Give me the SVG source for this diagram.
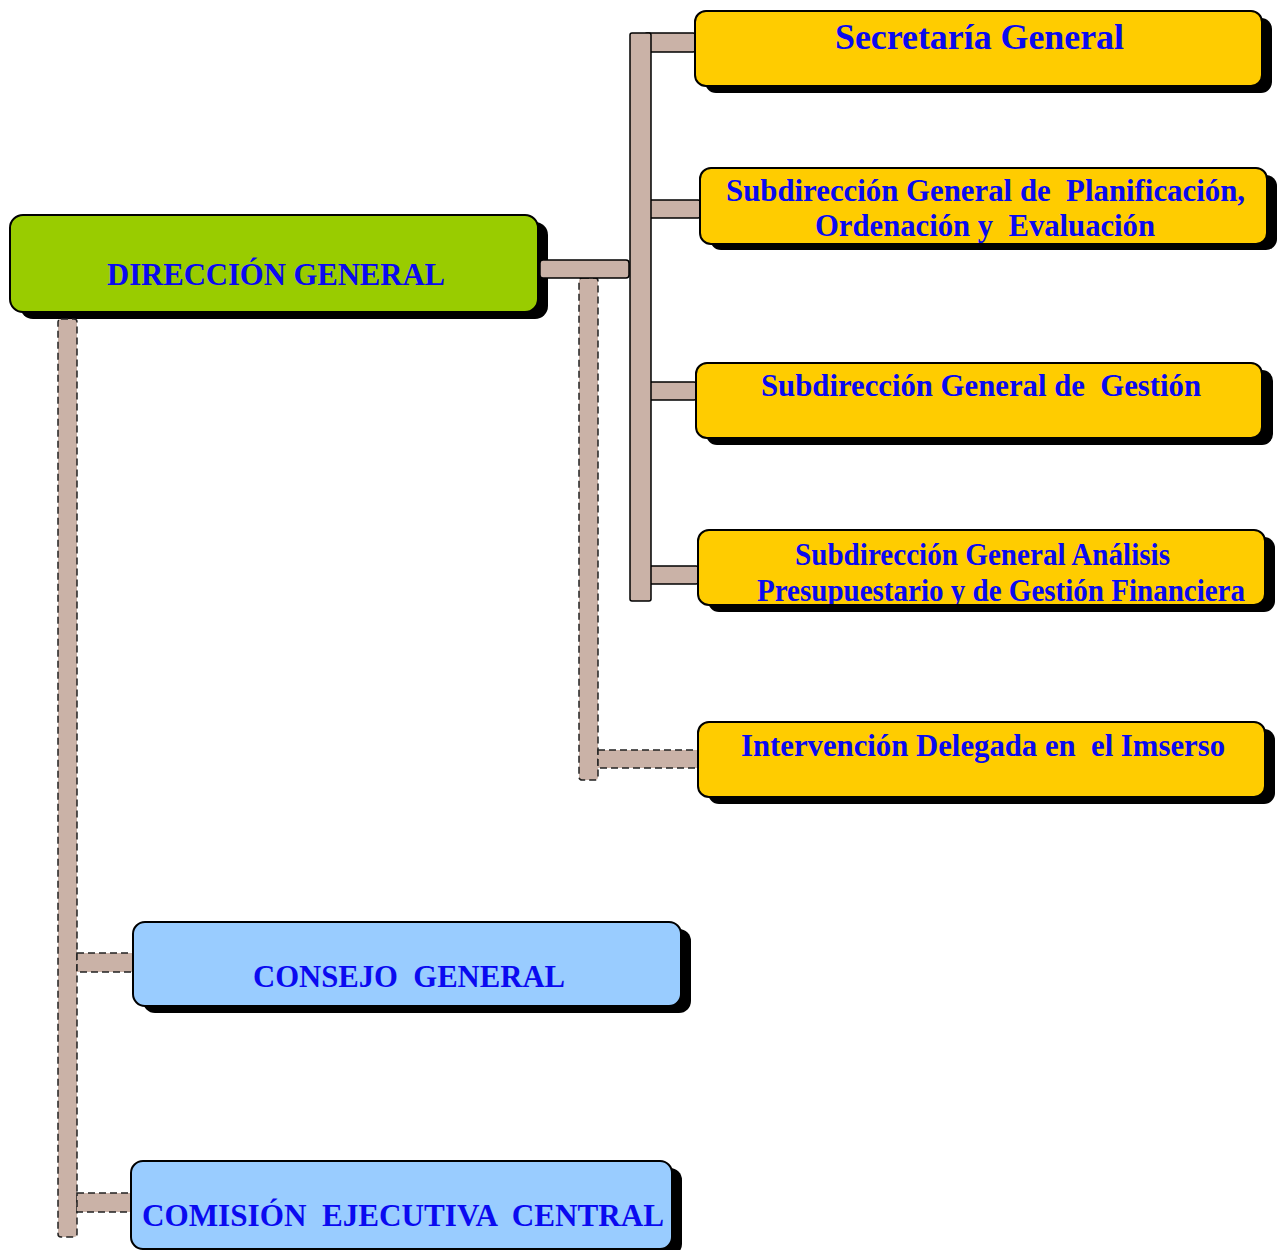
<svg xmlns="http://www.w3.org/2000/svg" width="1281" height="1250" viewBox="0 0 1281 1250">
<style>
.shadow{fill:#000}
.box{stroke:#000;stroke-width:2}
.yellow{fill:#FFCC00}
.green{fill:#99CC00}
.blue{fill:#99CCFF}
.con{fill:#CAB2A7;stroke:#000;stroke-width:1.5}
.dash{fill:#CAB2A7;stroke:#222;stroke-width:1.5;stroke-dasharray:7,4}
.t{font-family:"Liberation Serif","Times New Roman",serif;font-weight:bold;fill:#0A0AF0;font-size:32px}
</style>
<defs>
<clipPath id="clipA"><rect x="698" y="530" width="567" height="74"/></clipPath>
</defs>
<rect width="1281" height="1250" fill="#fff"/>
<g id="direccion-general">
<rect class="shadow" x="20" y="222" width="528" height="97" rx="13"/>
<rect class="box green" x="10" y="215" width="528" height="97" rx="13"/>
<text class="t" x="107" y="285" textLength="338" lengthAdjust="spacingAndGlyphs">DIRECCIÓN GENERAL</text>
</g>
<g id="connectors">
<rect class="dash" x="58" y="319" width="19" height="918" rx="3"/>
<rect class="dash" x="77" y="953" width="56" height="19"/>
<rect class="dash" x="77" y="1193" width="54" height="19"/>
<rect class="dash" x="579" y="278" width="19" height="502" rx="3"/>
<rect class="dash" x="598" y="750" width="100" height="18"/>
<rect class="con" x="645" y="33" width="50" height="19" rx="2"/>
<rect class="con" x="645" y="200" width="55" height="18" rx="2"/>
<rect class="con" x="645" y="382" width="51" height="18" rx="2"/>
<rect class="con" x="645" y="566" width="53" height="18" rx="2"/>
<rect class="con" x="630" y="33" width="21" height="568" rx="2"/>
<rect class="con" x="540" y="260" width="89" height="18" rx="3"/>
</g>
<g id="secretaria-general">
<rect class="shadow" x="705" y="18" width="567" height="75" rx="11"/>
<rect class="box yellow" x="695" y="11" width="567" height="75" rx="11"/>
<text class="t" x="835" y="49" style="font-size:36px" textLength="289" lengthAdjust="spacingAndGlyphs">Secretaría General</text>
</g>
<g id="sg-planificacion">
<rect class="shadow" x="710" y="175" width="567" height="75" rx="11"/>
<rect class="box yellow" x="700" y="168" width="567" height="76" rx="11"/>
<text class="t" x="726" y="201" textLength="519" lengthAdjust="spacingAndGlyphs" xml:space="preserve">Subdirección General de  Planificación,</text>
<text class="t" x="815" y="236" textLength="340" lengthAdjust="spacingAndGlyphs" xml:space="preserve">Ordenación y  Evaluación</text>
</g>
<g id="sg-gestion">
<rect class="shadow" x="706" y="370" width="567" height="75" rx="11"/>
<rect class="box yellow" x="696" y="363" width="566" height="75" rx="11"/>
<text class="t" x="761" y="396" textLength="440" lengthAdjust="spacingAndGlyphs" xml:space="preserve">Subdirección General de  Gestión</text>
</g>
<g id="sg-analisis">
<rect class="shadow" x="708" y="537" width="567" height="75" rx="11"/>
<rect class="box yellow" x="698" y="530" width="567" height="75" rx="11"/>
<g clip-path="url(#clipA)">
<text class="t" x="795" y="565" textLength="375" lengthAdjust="spacingAndGlyphs">Subdirección General Análisis</text>
<text class="t" x="757" y="601" textLength="488" lengthAdjust="spacingAndGlyphs">Presupuestario y de Gestión Financiera</text>
</g>
</g>
<g id="intervencion-delegada">
<rect class="shadow" x="708" y="729" width="567" height="75" rx="11"/>
<rect class="box yellow" x="698" y="722" width="567" height="75" rx="11"/>
<text class="t" x="741" y="756" textLength="484" lengthAdjust="spacingAndGlyphs" xml:space="preserve">Intervención Delegada en  el Imserso</text>
</g>
<g id="consejo-general">
<rect class="shadow" x="143" y="929" width="548" height="84" rx="12"/>
<rect class="box blue" x="133" y="922" width="548" height="84" rx="12"/>
<text class="t" x="253" y="987" textLength="312" lengthAdjust="spacingAndGlyphs" xml:space="preserve">CONSEJO  GENERAL</text>
</g>
<g id="comision-ejecutiva-central">
<rect class="shadow" x="141" y="1168" width="541" height="88" rx="12"/>
<rect class="box blue" x="131" y="1161" width="541" height="88" rx="12"/>
<text class="t" x="142" y="1226" textLength="522" lengthAdjust="spacingAndGlyphs" xml:space="preserve">COMISIÓN  EJECUTIVA  CENTRAL</text>
</g>
</svg>
